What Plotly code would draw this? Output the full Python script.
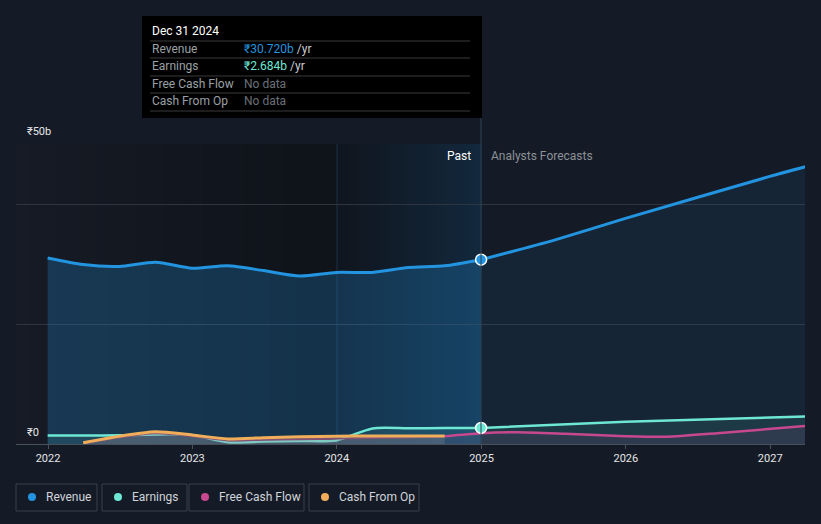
import plotly.graph_objects as go

# ---------------- data (₹ billions) ----------------
past_dates = ["2021-12-31", "2022-03-31", "2022-06-30", "2022-09-30", "2022-12-31",
              "2023-03-31", "2023-06-30", "2023-09-30", "2023-12-31",
              "2024-03-31", "2024-06-30", "2024-09-30", "2024-12-31"]
revenue_past = [31.0, 29.9, 29.6, 30.3, 29.3, 29.7, 28.9, 28.0, 28.6, 28.6, 29.4, 29.7, 30.72]
earnings_past = [1.4, 1.4, 1.45, 1.6, 1.5, 0.3, 0.4, 0.5, 0.6, 2.6, 2.62, 2.65, 2.684]

cfo_dates = ["2022-03-31", "2022-06-30", "2022-09-30", "2022-12-31", "2023-03-31",
             "2023-06-30", "2023-09-30", "2023-12-31", "2024-03-31", "2024-06-30", "2024-09-30"]
cfo_past = [0.2, 1.3, 2.05, 1.5, 0.85, 1.05, 1.2, 1.3, 1.35, 1.35, 1.35]
fcf_past = [0.1, 1.1, 1.8, 1.3, 0.6, 0.7, 0.8, 0.9, 1.0, 1.1, 1.3]

rev_fc_dates = ["2024-12-31", "2025-06-30", "2025-12-31", "2026-12-31", "2027-03-31"]
revenue_fc = [30.72, 33.9, 37.6, 44.6, 46.2]

earn_fc_dates = ["2024-12-31", "2025-12-31", "2027-03-31"]
earnings_fc = [2.684, 3.7, 4.6]

fcf_fc_dates = ["2024-09-30", "2024-12-31", "2025-03-31", "2025-08-01", "2025-12-31",
                "2026-04-15", "2026-08-20", "2027-03-31"]
fcf_fc = [1.3, 1.8, 1.95, 1.7, 1.3, 1.2, 1.8, 3.0]

years = ["2022", "2023", "2024", "2025", "2026", "2027"]

BG = "#151b26"
C_REV = "#2394df"
C_EARN = "#6ee7d5"
C_FCF = "#c8488f"
C_CFO = "#f0ad5a"

# plot area in pixels: x 16..805, y 144..444
PL, PR, PT, PB = 16, 805, 144, 444


def px(x):
    return (x - PL) / (PR - PL)


def py(y):
    return (PB - y) / (PB - PT)


fig = go.Figure()


def line(x, y, color, fill, width=3, smooth=0.7):
    fig.add_trace(go.Scatter(x=x, y=y, mode="lines",
                             line=dict(color=color, width=width, shape="spline", smoothing=smooth),
                             fill="tozeroy", fillcolor=fill, hoverinfo="skip", showlegend=False))


line(past_dates, revenue_past, C_REV, "rgba(35,148,223,0.25)")
line(rev_fc_dates, revenue_fc, C_REV, "rgba(35,148,223,0.09)", 3, 0.5)
line(past_dates, earnings_past, C_EARN, "rgba(110,231,213,0.10)", 2.5)
line(earn_fc_dates, earnings_fc, C_EARN, "rgba(110,231,213,0.10)", 2.5)
line(cfo_dates, fcf_past, "#7a3a66", "rgba(200,72,143,0.08)", 2)
line(fcf_fc_dates, fcf_fc, C_FCF, "rgba(200,72,143,0.10)", 2.5)
line(cfo_dates, cfo_past, C_CFO, "rgba(160,150,160,0.25)", 3)

fig.add_trace(go.Scatter(x=[past_dates[-1], past_dates[-1]], y=[revenue_past[-1], earnings_past[-1]],
                         mode="markers", marker=dict(size=11, color=[C_REV, C_EARN], line=dict(color="white", width=1.5)),
                         hoverinfo="skip", showlegend=False))

shapes = []
# background gradient: darkening towards 2024, blue highlight 2024-2025
n = 24
c0, c1 = (22, 27, 37), (15, 19, 26)
x_a, x_b = PL, 337
for i in range(n):
    t = i / (n - 1)
    c = tuple(int(c0[k] + (c1[k] - c0[k]) * t) for k in range(3))
    shapes.append(dict(type="rect", xref="paper", yref="paper", layer="below",
                       x0=px(x_a + (x_b - x_a) * i / n), x1=px(x_a + (x_b - x_a) * (i + 1) / n) + 0.001,
                       y0=0, y1=1, line_width=0, fillcolor="rgb(%d,%d,%d)" % c))
c0, c1 = (16, 22, 31), (19, 40, 60)
x_a, x_b = 337, 481
for i in range(n):
    t = i / (n - 1)
    c = tuple(int(c0[k] + (c1[k] - c0[k]) * t) for k in range(3))
    shapes.append(dict(type="rect", xref="paper", yref="paper", layer="below",
                       x0=px(x_a + (x_b - x_a) * i / n), x1=px(x_a + (x_b - x_a) * (i + 1) / n) + 0.001,
                       y0=0, y1=1, line_width=0, fillcolor="rgb(%d,%d,%d)" % c))
shapes.append(dict(type="line", xref="paper", yref="paper", layer="below", x0=px(337), x1=px(337), y0=0, y1=1,
                   line=dict(color="#1c3042", width=1)))
# divider at 2025 up to tooltip
shapes.append(dict(type="line", xref="paper", yref="paper", x0=px(481), x1=px(481), y0=0, y1=py(118),
                   line=dict(color="#2f4255", width=1)))
# tooltip box
shapes.append(dict(type="rect", xref="paper", yref="paper", x0=px(142), x1=px(482), y0=py(118), y1=py(16),
                   fillcolor="#000000", line_width=0))
for yy in [41, 58, 76, 93, 111]:
    shapes.append(dict(type="line", xref="paper", yref="paper", x0=px(150), x1=px(470), y0=py(yy), y1=py(yy),
                       line=dict(color="#3a3a3a", width=1)))

ann = []
ann.append(dict(x=px(150), y=py(31), text="Dec 31 2024", font=dict(color="#ffffff", size=12)))
rows = [("Revenue", '<span style="color:#2394df">₹30.720b</span> /yr'),
        ("Earnings", '<span style="color:#6ee7d5">₹2.684b</span> /yr'),
        ("Free Cash Flow", '<span style="color:#6b7078">No data</span>'),
        ("Cash From Op", '<span style="color:#6b7078">No data</span>')]
for (lab, val), yy in zip(rows, [49, 66, 84, 101]):
    ann.append(dict(x=px(150), y=py(yy), text=lab, font=dict(color="#9aa0a6", size=12)))
    ann.append(dict(x=px(242), y=py(yy), text=val, font=dict(color="#c8ccd2", size=12)))

ann.append(dict(x=px(25), y=py(131), text="₹50b", font=dict(color="#e6e6e6", size=11)))
ann.append(dict(x=px(25), y=py(432), text="₹0", font=dict(color="#e6e6e6", size=11)))
ann.append(dict(x=px(473), y=py(156), text="Past", xanchor="right", font=dict(color="#ffffff", size=12)))
ann.append(dict(x=px(489), y=py(156), text="Analysts Forecasts", font=dict(color="#8c9198", size=12)))

# legend boxes
legend = [("Revenue", C_REV, 16, 97), ("Earnings", C_EARN, 102, 187),
          ("Free Cash Flow", C_FCF, 189, 304), ("Cash From Op", C_CFO, 309, 419)]
for name, col, x0, x1 in legend:
    shapes.append(dict(type="rect", xref="paper", yref="paper", x0=px(x0), x1=px(x1), y0=py(511), y1=py(484),
                       line=dict(color="#3b414b", width=1), fillcolor="rgba(0,0,0,0)"))
    shapes.append(dict(type="circle", xref="paper", yref="paper", x0=px(x0 + 12), x1=px(x0 + 20),
                       y0=py(501), y1=py(493), line_width=0, fillcolor=col))
    ann.append(dict(x=px(x0 + 28), y=py(497), text=name, font=dict(color="#d0d4da", size=12)))

for a in ann:
    a.setdefault("xanchor", "left")
    a.update(xref="paper", yref="paper", showarrow=False, yanchor="middle")

fig.update_layout(
    width=821, height=524,
    margin=dict(l=PL, r=821 - PR, t=PT, b=524 - PB),
    paper_bgcolor=BG, plot_bgcolor=BG,
    font=dict(family="Roboto, sans-serif", color="#e6e6e6", size=11),
    shapes=shapes, annotations=ann, showlegend=False,
    xaxis=dict(range=["2021-10-12", "2027-03-30"], tickvals=[y + "-01-01" for y in years], ticktext=years,
               showgrid=False, zeroline=False, showline=True, linecolor="#4a505a", linewidth=1,
               ticks="outside", ticklen=4, tickcolor="#4a505a", tickfont=dict(color="#e6e6e6", size=11)),
    yaxis=dict(range=[0, 50], tickvals=[0, 20, 40, 50], showticklabels=False, showgrid=True,
               gridcolor="#2e3440", gridwidth=1, zeroline=False),
)

# page body has a default margin; remove it so the figure sits at the top-left corner
fig.write_html("out.html", config={"displayModeBar": False},
               post_script="document.body.style.margin='0';")
